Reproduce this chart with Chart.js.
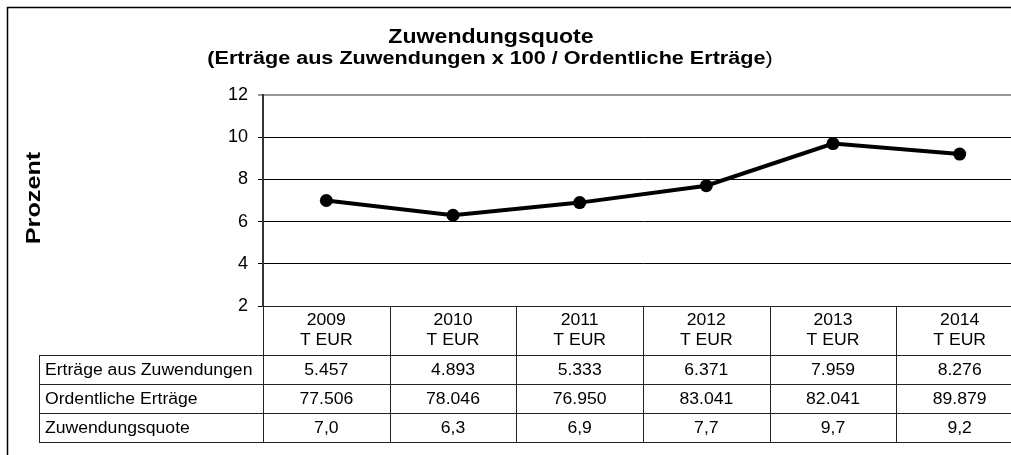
<!DOCTYPE html>
<html>
<head>
  <title>Zuwendungsquote</title>
  <script src="https://cdn.jsdelivr.net/npm/chart.js"></script>
  <style>
    body {
      margin: 0;
      background: #fff;
      overflow: hidden;
    }

    #wrap {
      width: 1011px;
      height: 455px;
      overflow: hidden;
    }
  </style>
</head>
<body>
  <div id="wrap">
    <canvas id="quoteChart" width="1030" height="455"></canvas>
  </div>

  <script>
    const years = ["2009", "2010", "2011", "2012", "2013", "2014"];
    const unitLabel = "T EUR";
    const rowLabels = ["Erträge aus Zuwendungen", "Ordentliche Erträge", "Zuwendungsquote"];
    const zuwendungen = [5457, 4893, 5333, 6371, 7959, 8276];
    const ordentlicheErtraege = [77506, 78046, 76950, 83041, 82041, 89879];
    const zuwendungsquote = [7.0, 6.3, 6.9, 7.7, 9.7, 9.2];

    const titleText = "Zuwendungsquote";
    const subtitleText = "(Erträge aus Zuwendungen x 100 / Ordentliche Erträge";
    const yTitle = "Prozent";

    const FONT = "'Liberation Sans', Arial, sans-serif";

    function fmtThousands(n) {
      return String(n).replace(/\B(?=(\d{3})+(?!\d))/g, ".");
    }

    function fmtDecimal(n) {
      return n.toFixed(1).replace(".", ",");
    }

    // draw text with a little horizontal stretch, like the original export
    function drawText(ctx, str, x, y, font, align, sx) {
      ctx.save();
      ctx.font = font;
      ctx.fillStyle = "#000";
      ctx.textBaseline = "middle";
      ctx.textAlign = align;
      ctx.translate(x, y);
      ctx.scale(sx, 1);
      ctx.fillText(str, 0, 0);
      ctx.restore();
    }

    function hLine(ctx, x1, x2, y) {
      ctx.beginPath();
      ctx.moveTo(x1, Math.round(y) + 0.5);
      ctx.lineTo(x2, Math.round(y) + 0.5);
      ctx.stroke();
    }

    function vLine(ctx, x, y1, y2) {
      ctx.beginPath();
      ctx.moveTo(Math.round(x) + 0.5, y1);
      ctx.lineTo(Math.round(x) + 0.5, y2);
      ctx.stroke();
    }

    const decorPlugin = {
      id: "decor",
      beforeDraw(chart) {
        const ctx = chart.ctx;
        ctx.save();
        ctx.strokeStyle = "#000";
        ctx.lineWidth = 1.5;
        ctx.beginPath();
        ctx.moveTo(7.5, 460);
        ctx.lineTo(7.5, 7.5);
        ctx.lineTo(1040, 7.5);
        ctx.stroke();
        ctx.restore();

        // titles
        drawText(ctx, titleText, 491, 37, "bold 21px " + FONT, "center", 1.1);
        const sx = 1.2;
        ctx.save();
        ctx.font = "bold 18px " + FONT;
        const w1 = ctx.measureText(subtitleText).width * sx;
        ctx.font = "18px " + FONT;
        const w2 = ctx.measureText(")").width * sx;
        ctx.restore();
        const start = 490 - (w1 + w2) / 2;
        drawText(ctx, subtitleText, start, 59, "bold 18px " + FONT, "left", sx);
        drawText(ctx, ")", start + w1, 59, "18px " + FONT, "left", sx);

        // rotated axis title
        ctx.save();
        ctx.translate(34, 198);
        ctx.rotate(-Math.PI / 2);
        drawText(ctx, yTitle, 0, 0, "bold 21px " + FONT, "center", 1.2);
        ctx.restore();
      },
      afterDraw(chart) {
        const ctx = chart.ctx;
        const x = chart.scales.x;
        const area = chart.chartArea;
        const colW = area.width / years.length;
        const top = area.bottom;
        const headerBottom = top + 49;
        const rowH = 29;
        const rows = [zuwendungen.map(fmtThousands), ordentlicheErtraege.map(fmtThousands), zuwendungsquote.map(fmtDecimal)];
        const tableBottom = headerBottom + rowH * rows.length;
        const labelLeft = 39;

        ctx.save();
        ctx.strokeStyle = "#222";
        ctx.lineWidth = 1;
        hLine(ctx, area.left, area.right, top);
        for (let r = 0; r <= rows.length; r++) {
          hLine(ctx, labelLeft, area.right, headerBottom + r * rowH);
        }
        vLine(ctx, labelLeft, headerBottom, tableBottom);
        for (let i = 0; i <= years.length; i++) {
          vLine(ctx, area.left + i * colW, top, tableBottom);
        }
        ctx.restore();

        const font = "16px " + FONT;
        years.forEach((year, i) => {
          const cx = x.getPixelForValue(i);
          drawText(ctx, year, cx, top + 15, font, "center", 1.1);
          drawText(ctx, unitLabel, cx, top + 35, font, "center", 1.1);
          rows.forEach((row, r) => {
            drawText(ctx, row[i], cx, headerBottom + r * rowH + rowH / 2 + 1, font, "center", 1.1);
          });
        });
        rowLabels.forEach((label, r) => {
          drawText(ctx, label, labelLeft + 6, headerBottom + r * rowH + rowH / 2 + 1, font, "left", 1.1);
        });
      }
    };

    const ctx = document.getElementById("quoteChart").getContext("2d");
    const chart = new Chart(ctx, {
      type: "line",
      data: {
        labels: years,
        datasets: [{
          label: "Zuwendungsquote",
          data: zuwendungsquote,
          borderColor: "#000",
          backgroundColor: "#000",
          borderWidth: 4,
          tension: 0,
          pointRadius: 6.5,
          pointBackgroundColor: "#000",
          pointBorderWidth: 0,
        }],
      },
      options: {
        responsive: false,
        animation: false,
        layout: {
          autoPadding: false,
          padding: { left: 0, right: 7, top: 95, bottom: 149 },
        },
        plugins: {
          legend: { display: false },
          tooltip: { enabled: false },
          title: { display: false },
        },
        scales: {
          x: {
            type: "category",
            display: false,
            offset: true,
          },
          y: {
            min: 2,
            max: 12,
            afterFit(scale) {
              scale.width = 263;
            },
            ticks: {
              stepSize: 2,
              color: "#000",
              padding: 10,
              font: { family: FONT, size: 18 },
            },
            grid: {
              tickLength: 5,
              color: c => (c.tick && c.tick.value === 12 ? "#999" : "#000"),
              lineWidth: c => (c.tick && c.tick.value === 12 ? 2 : 1),
            },
            border: {
              color: "#333",
              width: 2,
            },
          },
        },
      },
      plugins: [decorPlugin],
    });
  </script>
</body>
</html>
